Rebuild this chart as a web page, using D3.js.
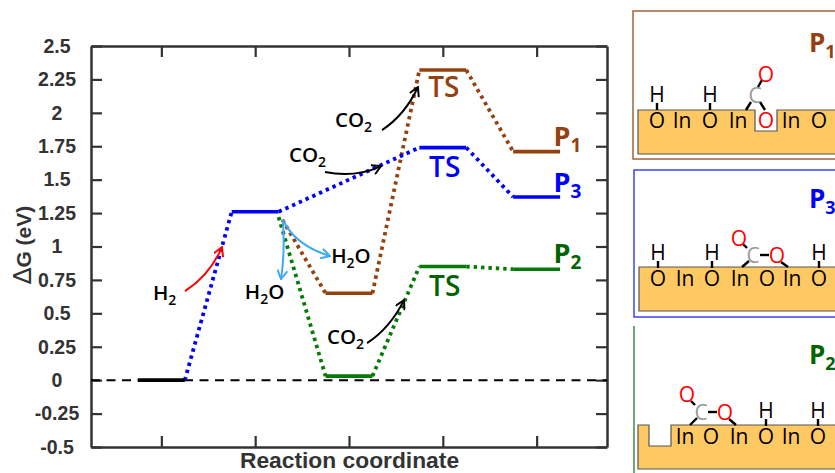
<!DOCTYPE html>
<html><head><meta charset="utf-8">
<script src="https://cdn.jsdelivr.net/npm/d3@7"></script>
<style>html,body{margin:0;padding:0;background:#fff}svg{display:block}
.tick text{font:bold 19.5px "Liberation Sans",Arial,sans-serif;fill:#333}
.ann{font-family:"Open Sans",sans-serif;font-weight:600}
.big{font-family:"Open Sans",sans-serif;font-weight:700}
</style></head><body><svg id="c" width="835" height="473"></svg>
<script>
const yTicks=[2.5,2.25,2,1.75,1.5,1.25,1,0.75,0.5,0.25,0,-0.25,-0.5];
const yTickLabels=["2.5","2.25","2","1.75","1.5","1.25","1","0.75","0.5","0.25","0","-0.25","-0.5"];
const xTicks=[1,2,3,4,5];
const steps=[0.75,1.75,2.75,3.75,4.75];
const stepWidth=0.5;
const blackLevels=[0];
const blueLevels=[null,1.26,null,1.74,1.37];
const brownLevels=[null,null,0.65,2.32,1.71];
const greenLevels=[null,null,0.03,0.85,0.83];
const colors={black:"#000",blue:"#0000ff",brown:"#95400f",green:"#067a06",label:"#006400",sky:"#3fa9f5",red:"#ff0000"};
const blueLinks=[[1.25,0,1.75,1.26],[2.25,1.26,3.75,1.74],[4.25,1.74,4.75,1.37]];
const brownLinks=[[2.29,1.2,2.75,0.65],[3.25,0.65,3.75,2.32],[4.25,2.32,4.75,1.71]];
const greenLinks=[[2.25,1.22,2.75,0.03],[3.25,0.03,3.75,0.85],[4.25,0.85,4.75,0.83]];
const curves=[
 ["red",1.252,0.666,1.518,0.786,1.646,0.996],
 ["black",3.352,1.871,3.597,1.984,3.735,2.193],
 ["black",2.744,1.557,3.064,1.512,3.341,1.602],
 ["black",3.192,0.277,3.437,0.389,3.586,0.599],
 ["sky",2.296,1.198,2.424,1.01,2.797,0.928],
 ["sky",2.296,1.198,2.318,0.936,2.275,0.756]];
const molLabels=[
 ["CO","2",2.85,1.893],["CO","2",2.36,1.63],["CO","2",2.765,0.27],
 ["H","2",0.91,0.6]];
const waterLabels=[[2.81,0.875],[1.89,0.61]];
const tsLabels=[["TS","brown",4.01,2.117],["TS","blue",4.02,1.52],["TS","label",4.02,0.63]];
const prodLabels=[["P","1","brown",5.18,1.75],["P","3","blue",5.18,1.41],["P","2","label",5.18,0.875]];

const svg=d3.select("#c");
const x=d3.scaleLinear().domain([0.25,5.75]).range([91,607]);
const y=d3.scaleLinear().domain([-0.5,2.5]).range([447,46]);
const defs=svg.append("defs");
Object.entries({red:colors.red,black:"#000",sky:colors.sky}).forEach(([k,c])=>{
 defs.append("marker").attr("id","a"+k).attr("viewBox","0 0 10 10").attr("refX",9).attr("refY",5)
  .attr("markerWidth",11).attr("markerHeight",11).attr("markerUnits","userSpaceOnUse").attr("orient","auto")
  .append("path").attr("d","M1,0.5L9,5L1,9.5").attr("fill","none").attr("stroke",c).attr("stroke-width",1.8);
});
function ax(gen,tx,ty){
 const g=svg.append("g").attr("transform",`translate(${tx},${ty})`).call(gen);
 g.selectAll(".tick line").attr("stroke","#333").attr("stroke-width",2.2);
 g.select(".domain").attr("stroke","#333").attr("stroke-width",2.5);
 return g;
}
const left=ax(d3.axisLeft(y).tickValues(yTicks).tickSize(-11).tickSizeOuter(0).tickFormat((d,i)=>yTickLabels[i]),91,0);
left.selectAll(".tick text").attr("text-anchor","middle").attr("x",-34);
ax(d3.axisRight(y).tickValues(yTicks).tickSize(-11).tickSizeOuter(0).tickFormat(""),607,0);
ax(d3.axisBottom(x).tickValues(xTicks).tickSize(-11).tickSizeOuter(0).tickFormat(""),0,447);
ax(d3.axisTop(x).tickValues(xTicks).tickSize(-11).tickSizeOuter(0).tickFormat(""),0,46);
svg.append("text").attr("x",349.5).attr("y",468).attr("text-anchor","middle")
 .style("font",'bold 22.8px "Liberation Sans",Arial,sans-serif').attr("fill","#333").text("Reaction coordinate");
const yl=svg.append("text").attr("transform","translate(31,245) rotate(-90)").attr("text-anchor","middle")
 .style("font",'bold 21px "Liberation Sans",Arial,sans-serif').attr("fill","#333");
yl.append("tspan").style("font",'normal 25px "DejaVu Sans",sans-serif').text("∆");
yl.append("tspan").text("G (eV)");
svg.append("line").attr("x1",x(0.25)).attr("x2",x(5.75)).attr("y1",y(0)).attr("y2",y(0))
 .attr("stroke","#000").attr("stroke-width",2).attr("stroke-dasharray","9 6.5");
function links(data,c){
 svg.append("g").selectAll("line").data(data).join("line")
  .attr("x1",d=>x(d[0])).attr("y1",d=>y(d[1])).attr("x2",d=>x(d[2])).attr("y2",d=>y(d[3]))
  .attr("stroke",c).attr("stroke-width",3.8).attr("stroke-dasharray","3.4 4");
}
function levels(data,c){
 svg.append("g").selectAll("line").data(data.map((v,i)=>[steps[i],v]).filter(d=>d[1]!==null)).join("line")
  .attr("x1",d=>x(d[0])).attr("x2",d=>x(d[0]+stepWidth)).attr("y1",d=>y(d[1])).attr("y2",d=>y(d[1]))
  .attr("stroke",c).attr("stroke-width",3.6);
}
links(brownLinks,colors.brown);links(greenLinks,colors.green);links(blueLinks,colors.blue);
levels(blackLevels,colors.black);levels(blueLevels,colors.blue);levels(brownLevels,colors.brown);levels(greenLevels,colors.green);
svg.append("g").selectAll("path").data(curves).join("path")
 .attr("d",d=>`M${x(d[1])},${y(d[2])}Q${x(d[3])},${y(d[4])} ${x(d[5])},${y(d[6])}`)
 .attr("fill","none").attr("stroke",d=>colors[d[0]]).attr("stroke-width",2).attr("marker-end",d=>`url(#a${d[0]})`);
function sub(t,main,s,subSize,dy){
 t.append("tspan").text(main);
 t.append("tspan").attr("dy",dy).style("font-size",subSize+"px").text(s);
}
molLabels.forEach(d=>{
 const t=svg.append("text").attr("class","ann").attr("x",x(d[2])).attr("y",y(d[3])).attr("font-size",20.5).attr("fill","#000");
 sub(t,d[0],d[1],14,5);
});
waterLabels.forEach(d=>{
 const t=svg.append("text").attr("class","ann").attr("x",x(d[0])).attr("y",y(d[1])).attr("font-size",20.5).attr("fill","#000");
 t.append("tspan").text("H");t.append("tspan").attr("dy",5).style("font-size","14px").text("2");t.append("tspan").attr("dy",-5).text("O");
});
tsLabels.forEach(d=>svg.append("text").attr("class","ann").attr("x",x(d[2])).attr("y",y(d[3])).attr("text-anchor","middle")
 .attr("font-size",28).attr("fill",colors[d[1]]).text(d[0]));
prodLabels.forEach(d=>{
 const t=svg.append("text").attr("class","big").attr("x",x(d[3])).attr("y",y(d[4])).attr("font-size",27).attr("fill",colors[d[2]]);
 sub(t,d[0],d[1],19,6);
});

const panelColors=["#a0643c","#3c46f0","#3c8c4a"];
const panelBoxes=[[633,11,220,148],[634,170,220,147]];
const greenRule=[634,326,473];
const slabs=[[638,110,154],[639,267,311],[638,425,469]];
const notches=[[755,777,21],null,[649,671,21]];
const atoms=[
 [["O",657],["In",682],["O",710],["In",738],["In",791],["O",819]],
 [["O",658],["In",685],["O",712],["In",740],["O",767],["In",792],["O",819]],
 [["In",685],["O",711],["In",739],["O",766],["In",791],["O",818]]];
const atomMid=[120,278,436];
const hydrogens=[[657,710],[658,712,819],[766,818]];
const carbons=[[755,95],[753,255],[701,412]];
const oxygens=[[[766,74],[766,120]],[[739,238],[777,255]],[[687,394],[725,412]]];
const bonds=[
 [[746,110,751,102],[758,87,762,80],[760,102,765,110]],
 [[742,267,749,261],[747,248,743,244],[760,255,769,255],[781,262,788,267]],
 [[690,425,697,418],[695,405,691,401],[708,412,717,412],[729,419,736,425]]];
const panelTitles=[["P","1",809,52,"brown"],["P","3",809,208,"blue"],["P","2",809,364,"label"]];
const slab=svg.append("g");
const atomSize=21;
panelBoxes.forEach((b,i)=>{
 slab.append("rect").attr("x",b[0]).attr("y",b[1]).attr("width",b[2]).attr("height",b[3])
  .attr("fill","none").attr("stroke",panelColors[i]).attr("stroke-width",1.5);
});
slab.append("line").attr("x1",greenRule[0]).attr("x2",greenRule[0]).attr("y1",greenRule[1]).attr("y2",greenRule[2])
 .attr("stroke",panelColors[2]).attr("stroke-width",1.5);
slabs.forEach((s,i)=>{
 const [l,t,bt]=s,n=notches[i];
 const p=d3.path();p.moveTo(860,t);
 if(n){p.lineTo(n[1],t);p.lineTo(n[1],t+n[2]);p.lineTo(n[0],t+n[2]);p.lineTo(n[0],t);}
 p.lineTo(l,t);p.lineTo(l,bt);p.lineTo(860,bt);
 slab.append("path").attr("d",p.toString()).attr("fill","#fec963").attr("stroke","#555").attr("stroke-width",1.2);
 atoms[i].forEach(a=>slab.append("text").attr("x",a[1]).attr("y",atomMid[i]+8).attr("text-anchor","middle")
  .attr("font-family","Open Sans").attr("font-size",atomSize).attr("fill","#000").text(a[0]));
 hydrogens[i].forEach(h=>{
  slab.append("text").attr("x",h).attr("y",atomMid[i]-18).attr("text-anchor","middle")
   .attr("font-family","Open Sans").attr("font-size",atomSize).attr("fill","#000").text("H");
  slab.append("line").attr("x1",h).attr("x2",h).attr("y1",atomMid[i]-17).attr("y2",atomMid[i]-10).attr("stroke","#000").attr("stroke-width",2.4);
 });
 bonds[i].forEach(d=>slab.append("line").attr("x1",d[0]).attr("y1",d[1]).attr("x2",d[2]).attr("y2",d[3]).attr("stroke","#000").attr("stroke-width",2.4));
 slab.append("text").attr("x",carbons[i][0]).attr("y",carbons[i][1]+8).attr("text-anchor","middle")
  .attr("font-family","Open Sans").attr("font-size",atomSize).attr("fill","#999").text("C");
 oxygens[i].forEach(o=>slab.append("text").attr("x",o[0]).attr("y",o[1]+8).attr("text-anchor","middle")
  .attr("font-family","Open Sans").attr("font-size",atomSize).attr("fill","#ff0000").text("O"));
 const pt=panelTitles[i];
 const tt=slab.append("text").attr("class","big").attr("x",pt[2]).attr("y",pt[3]).attr("font-size",26).attr("fill",colors[pt[4]]);
 sub(tt,pt[0],pt[1],18,6);
});
</script></body></html>
